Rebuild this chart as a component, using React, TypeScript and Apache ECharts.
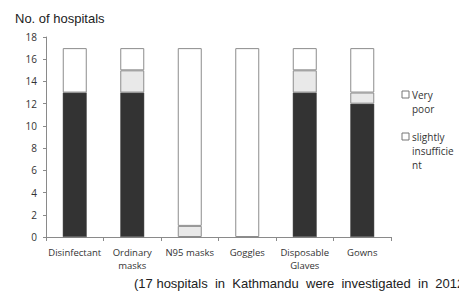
import React, { useEffect, useRef } from "react";
import * as echarts from "echarts";

const categories = ["Disinfectant", "Ordinary\nmasks", "N95 masks", "Goggles", "Disposable\nGlaves", "Gowns"];
const sufficient = [13, 13, 0, 0, 13, 12];
const slightlyInsufficient = [0, 2, 1, 0, 2, 1];
const veryPoor = [4, 2, 16, 17, 2, 4];
const yTicks = [0, 2, 4, 6, 8, 10, 12, 14, 16, 18];

const nz = (arr: number[]) => arr.map((v) => (v === 0 ? "-" : v));

export default function App() {
  const ref = useRef<HTMLDivElement>(null);
  useEffect(() => {
    document.body.style.margin = "0";
    const chart = echarts.init(ref.current!, null, { renderer: "svg" });
    const font = "'Liberation Sans', Arial, sans-serif";
    const lblFont = "'Open Sans', 'Liberation Sans', sans-serif";
    chart.setOption({
      animation: false,
      backgroundColor: "#ffffff",
      grid: { left: 46, right: 68, top: 37, bottom: 54 },
      xAxis: {
        type: "category",
        data: categories,
        axisLine: { lineStyle: { color: "#8a8a8a" } },
        axisTick: { show: true, length: 4, lineStyle: { color: "#8a8a8a" } },
        axisLabel: { fontSize: 9.5, color: "#333", fontFamily: lblFont, lineHeight: 13, margin: 9, interval: 0 },
      },
      yAxis: {
        type: "value",
        min: yTicks[0],
        max: yTicks[yTicks.length - 1],
        interval: 2,
        splitLine: { show: false },
        axisLine: { show: true, lineStyle: { color: "#8a8a8a" } },
        axisTick: { show: true, length: 3, lineStyle: { color: "#8a8a8a" } },
        axisLabel: { fontSize: 10, color: "#333", fontFamily: lblFont, margin: 9 },
      },
      series: [
        {
          name: "sufficient",
          type: "bar",
          stack: "total",
          barWidth: 24,
          data: nz(sufficient),
          itemStyle: { color: "#333333", borderColor: "#555555", borderWidth: 0.5 },
        },
        {
          name: "slightly insufficient",
          type: "bar",
          stack: "total",
          barWidth: 24,
          data: nz(slightlyInsufficient),
          itemStyle: { color: "#e9e9e9", borderColor: "#8c8c8c", borderWidth: 1 },
        },
        {
          name: "Very poor",
          type: "bar",
          stack: "total",
          barWidth: 24,
          data: nz(veryPoor),
          itemStyle: { color: "#ffffff", borderColor: "#8c8c8c", borderWidth: 1 },
        },
      ],
      graphic: [
        {
          type: "text",
          left: 15,
          top: 12,
          style: { text: "No. of hospitals", fontSize: 13, fontFamily: font, fill: "#222" },
        },
        {
          type: "text",
          x: 134,
          y: 277,
          style: { text: "(17 hospitals  in  Kathmandu  were  investigated  in  2012)", fontSize: 13, fontFamily: font, fill: "#222" },
        },
        {
          type: "rect",
          shape: { x: 402, y: 91, width: 7, height: 7 },
          style: { fill: "#fff", stroke: "#777", lineWidth: 1 },
        },
        {
          type: "text",
          x: 412,
          y: 88,
          style: { text: "Very\npoor", fontSize: 10, lineHeight: 14, fontFamily: lblFont, fill: "#333" },
        },
        {
          type: "rect",
          shape: { x: 402, y: 133, width: 7, height: 7 },
          style: { fill: "#fff", stroke: "#777", lineWidth: 1 },
        },
        {
          type: "text",
          x: 412,
          y: 130,
          style: { text: "slightly\ninsufficie\nnt", fontSize: 10, lineHeight: 14, fontFamily: lblFont, fill: "#333" },
        },
      ],
    });
    return () => chart.dispose();
  }, []);
  return <div ref={ref} style={{ width: 459, height: 291 }} />;
}
